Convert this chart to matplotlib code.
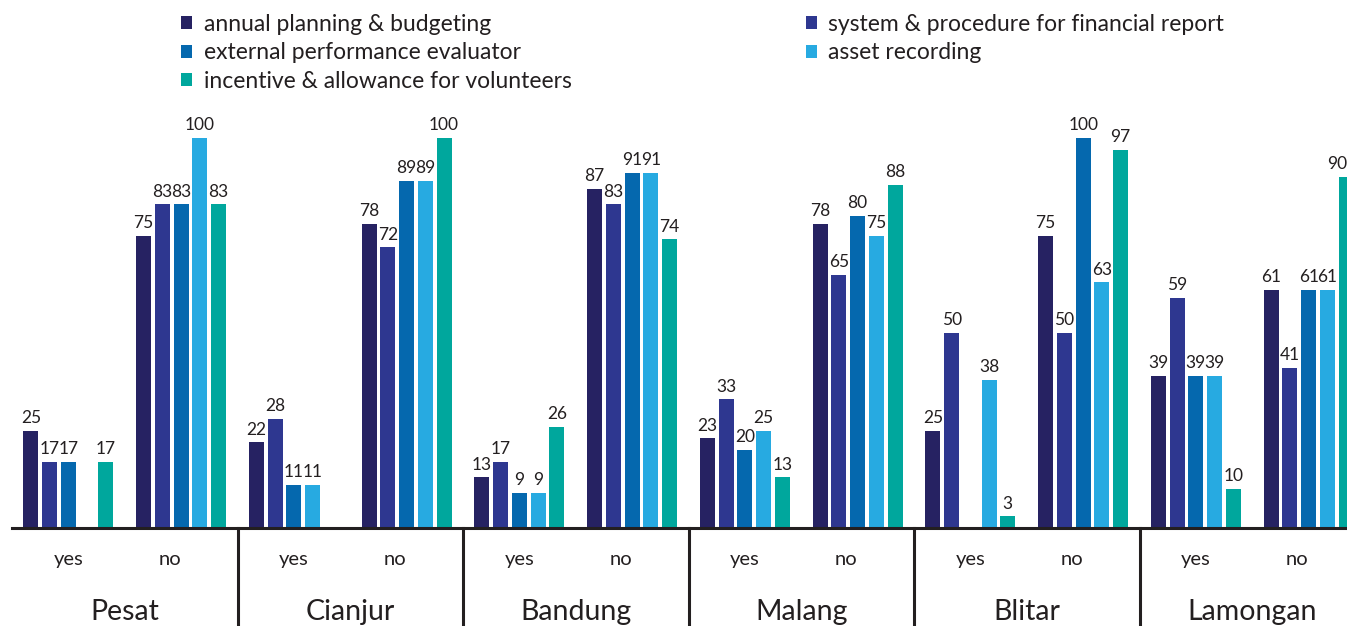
import matplotlib
matplotlib.use("Agg")
import matplotlib.pyplot as plt
import numpy as np

plt.rcParams["font.family"] = ["Lato", "DejaVu Sans"]

cities = ["Pesat", "Cianjur", "Bandung", "Malang", "Blitar", "Lamongan"]
answers = ["yes", "no"]

# one value per (city, answer) slot; 0 = no bar shown
annual = [25, 75, 22, 78, 13, 87, 23, 78, 25, 75, 39, 61]
system = [17, 83, 28, 72, 17, 83, 33, 65, 50, 50, 59, 41]
external = [17, 83, 11, 89, 9, 91, 20, 80, 0, 100, 39, 61]
asset = [0, 100, 11, 89, 9, 91, 25, 75, 38, 63, 39, 61]
incentive = [17, 83, 0, 100, 26, 74, 13, 88, 3, 97, 10, 90]

series = [
    ("annual planning & budgeting", annual, "#262262"),
    ("system & procedure for financial report", system, "#2e3790"),
    ("external performance evaluator", external, "#0568ae"),
    ("asset recording", asset, "#27aae1"),
    ("incentive & allowance for volunteers", incentive, "#00a79d"),
]
ink = "#231f20"

W, H = 1347, 626
fig = plt.figure(figsize=(W / 100, H / 100), dpi=100)
x0, base, top = 12, 528, 100
ax = fig.add_axes([x0 / W, (H - base) / H, 1 - x0 / W, (base - top) / H])

slot_px = 112.75
nslots = len(cities) * len(answers)
xmax = (W - x0) / slot_px
ax.set_xlim(0, xmax)
ax.set_ylim(0, (base - top) / 3.9)

x = np.arange(nslots) + 0.5
pitch, width = 0.166, 0.133
handles = {}
for j, (name, vals, col) in enumerate(series):
    xs = x + (j - 2) * pitch
    b = ax.bar(xs, vals, width=width, color=col, label=name)
    handles[name] = b
    for xi, v in zip(xs, vals):
        if v > 0:
            # the last label sits on the right edge; keep it inside
            if xi + 0.1 > xmax:
                ax.text(xmax, v + 1.2, str(v), ha="right", va="bottom",
                        fontsize=12.5, color=ink)
            else:
                ax.text(xi, v + 1.2, str(v), ha="center", va="bottom",
                        fontsize=12.5, color=ink)

for s in ["top", "right", "left"]:
    ax.spines[s].set_visible(False)
ax.spines["bottom"].set_color(ink)
ax.spines["bottom"].set_linewidth(2.2)
ax.set_xticks([])
ax.set_yticks([])

# answer labels and city labels below the axis
for i in range(nslots):
    lab = answers[i % 2]
    off = 0 if lab == "yes" else -0.1
    ax.text(x[i] + off, -8.2, lab, ha="center", va="center", fontsize=14.5, color=ink)
for k, c in enumerate(cities):
    ax.text(2 * k + 1, -21.5, c, ha="center", va="center", fontsize=20.5, color=ink)
for k in range(1, len(cities)):
    ax.plot([2 * k, 2 * k], [0, -40], color=ink, lw=2.2, clip_on=False)

order = ["annual planning & budgeting", "external performance evaluator",
         "incentive & allowance for volunteers",
         "system & procedure for financial report", "asset recording"]
fig.legend([handles[n] for n in order], order, ncol=2, loc="upper left",
           bbox_to_anchor=(181 / W, 1 - 14 / H), frameon=False, fontsize=16.5,
           handlelength=0.5, handleheight=0.5, handletextpad=0.5,
           labelspacing=0.32, columnspacing=10.2, borderpad=0, borderaxespad=0,
           labelcolor=ink)

fig.savefig("out.png", dpi=100)
